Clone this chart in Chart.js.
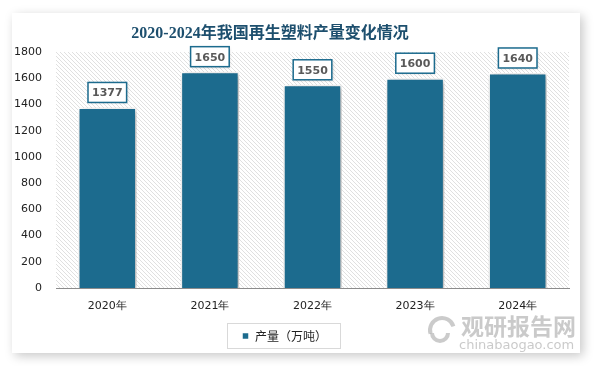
<!DOCTYPE html>
<html>
<head>
<meta charset="utf-8">
<script src="https://cdn.jsdelivr.net/npm/chart.js@4/dist/chart.umd.min.js"></script>
<style>
  html, body { margin: 0; padding: 0; background: #fff; }
  #wrap { position: relative; width: 594px; height: 366px; overflow: hidden; }
  #card {
    position: absolute; left: 12px; top: 13px; width: 568px; height: 340px;
    background: #fff; box-shadow: 3px 3px 10px rgba(0,0,0,0.22);
  }
  #chart { position: absolute; left: 0; top: 0; }
</style>
</head>
<body>
<div id="wrap">
  <div id="card"></div>
  <canvas id="chart" width="594" height="366"></canvas>
</div>
<script>
  const titleText = '2020-2024年我国再生塑料产量变化情况';
  const years = ['2020年', '2021年', '2022年', '2023年', '2024年'];
  const output = [1377, 1650, 1550, 1600, 1640];
  const seriesName = '产量（万吨）';

  const barColor = '#1c6b8e';
  const numFont = '"DejaVu Sans", Verdana, sans-serif';

  // diagonal hatch for the plot background
  function makeHatch(ctx) {
    const p = document.createElement('canvas');
    p.width = 4; p.height = 4;
    const c = p.getContext('2d');
    c.strokeStyle = '#e0e0e0';
    c.lineWidth = 1;
    c.beginPath();
    c.moveTo(0, 0); c.lineTo(4, 4);
    c.moveTo(-1, 3); c.lineTo(1, 5);
    c.moveTo(3, -1); c.lineTo(5, 1);
    c.stroke();
    return ctx.createPattern(p, 'repeat');
  }

  const decor = {
    id: 'decor',
    beforeDraw(chart) {
      const { ctx, chartArea: a } = chart;
      ctx.save();
      ctx.fillStyle = makeHatch(ctx);
      ctx.fillRect(a.left, a.top, a.right - a.left, a.bottom - a.top);
      ctx.restore();

      // title
      ctx.save();
      ctx.font = 'bold 16px "Liberation Serif", "Noto Sans CJK SC", serif';
      ctx.fillStyle = '#1d4f6e';
      ctx.textAlign = 'center';
      ctx.textBaseline = 'middle';
      ctx.fillText(titleText, 270, 34);
      ctx.restore();
    },
    beforeDatasetsDraw(chart) {
      const ctx = chart.ctx;
      ctx.save();
      ctx.shadowColor = 'rgba(0,0,0,0.35)';
      ctx.shadowBlur = 6;
      ctx.shadowOffsetX = 2;
      ctx.shadowOffsetY = 2;
    },
    afterDatasetsDraw(chart) {
      const ctx = chart.ctx;
      ctx.restore();
      const meta = chart.getDatasetMeta(0);
      ctx.save();
      ctx.font = 'bold 11px ' + numFont;
      ctx.textAlign = 'center';
      ctx.textBaseline = 'middle';
      meta.data.forEach((bar, i) => {
        const txt = String(output[i]);
        const w = ctx.measureText(txt).width + 8;
        const h = 20;
        const x = bar.x - w / 2;
        const y = bar.y - 5 - h;
        ctx.save();
        ctx.shadowColor = 'rgba(0,0,0,0.2)';
        ctx.shadowBlur = 3;
        ctx.shadowOffsetX = 1;
        ctx.shadowOffsetY = 1;
        ctx.fillStyle = '#fff';
        ctx.fillRect(x, y, w, h);
        ctx.restore();
        ctx.strokeStyle = barColor;
        ctx.lineWidth = 1.5;
        ctx.strokeRect(x, y, w, h);
        ctx.fillStyle = '#595959';
        ctx.fillText(txt, bar.x, y + h / 2 + 1);
      });
      ctx.restore();
    },
    afterDraw(chart) {
      const ctx = chart.ctx;
      // legend frame
      const box = chart.legend.legendHitBoxes[0];
      if (box) {
        ctx.save();
        ctx.strokeStyle = '#d9d9d9';
        ctx.lineWidth = 1;
        ctx.strokeRect(box.left - 14.5, box.top - 6.5, box.width + 28, box.height + 13);
        ctx.restore();
      }
      // watermark
      ctx.save();
      ctx.fillStyle = 'rgba(150,150,150,0.5)';
      ctx.font = 'bold 23px "Noto Sans CJK SC", sans-serif';
      ctx.textBaseline = 'middle';
      ctx.fillText('观研报告网', 461, 326);
      ctx.font = '13px ' + numFont;
      ctx.fillText('chinabaogao.com', 459, 346);
      ctx.strokeStyle = 'rgba(160,160,160,0.55)';
      ctx.lineWidth = 4;
      ctx.beginPath();
      ctx.arc(442, 330, 12, Math.PI * 0.9, Math.PI * 1.9);
      ctx.stroke();
      ctx.beginPath();
      ctx.arc(440, 333, 8, Math.PI * 0.0, Math.PI * 1.0);
      ctx.stroke();
      ctx.restore();
    }
  };

  new Chart(document.getElementById('chart'), {
    type: 'bar',
    data: {
      labels: years,
      datasets: [{
        label: seriesName,
        data: output,
        backgroundColor: barColor,
        borderColor: '#ffffff',
        borderWidth: 1.5,
        categoryPercentage: 1,
        barPercentage: 0.57
      }]
    },
    options: {
      responsive: false,
      animation: false,
      devicePixelRatio: 1,
      layout: { padding: { top: 52, right: 25, left: 0, bottom: 14 } },
      scales: {
        x: {
          grid: { display: false, drawTicks: false },
          border: { display: true, color: '#8c8c8c', width: 1 },
          ticks: { color: '#222', font: { family: numFont, size: 11 }, padding: 12 },
          afterFit(axis) { axis.height = 36; }
        },
        y: {
          min: 0, max: 1800,
          grid: { display: false, drawTicks: false },
          border: { display: false },
          ticks: {
            stepSize: 200, color: '#222', font: { family: numFont, size: 11 }, padding: 14,
            callback: v => String(v)
          },
          afterFit(axis) { axis.width = 56; }
        }
      },
      plugins: {
        legend: {
          position: 'bottom',
          labels: {
            boxWidth: 7, boxHeight: 7, color: '#222',
            font: { family: '"Noto Sans CJK SC", sans-serif', size: 12 },
            padding: 6
          }
        },
        tooltip: { enabled: false }
      }
    },
    plugins: [decor]
  });
</script>
</body>
</html>
